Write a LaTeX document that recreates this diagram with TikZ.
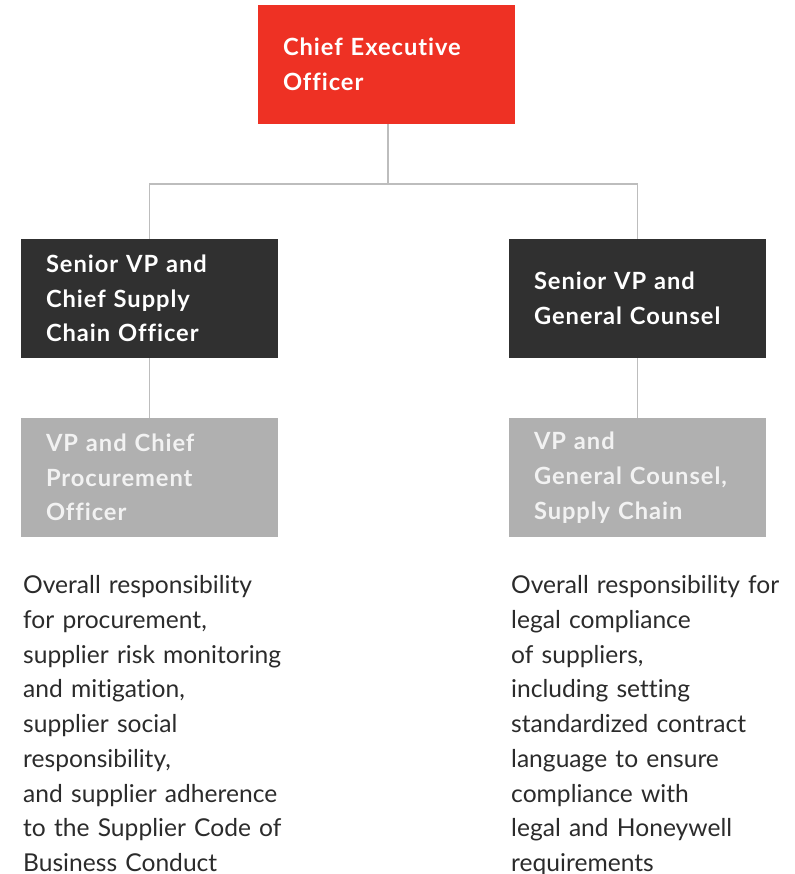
\documentclass[tikz,border=0pt]{standalone}
\usepackage{fontspec}
\setmainfont{Lato}[Ligatures=NoCommon]
\newfontfamily\boxfont{Lato}[LetterSpace=4,Ligatures=NoCommon]
\definecolor{ceored}{HTML}{EE3124}
\definecolor{darkbox}{HTML}{303030}
\definecolor{graybox}{HTML}{B0B0B0}
\definecolor{graytext}{HTML}{F2F2F2}
\definecolor{linegray}{HTML}{BDBDBD}
\definecolor{bodytext}{HTML}{2B2B2B}
\begin{document}
\begin{tikzpicture}[x=1pt,y=-1pt,
  box/.style={rectangle, text width=207pt, inner xsep=25pt, inner ysep=0pt,
    minimum height=119pt, align=left, font=\boxfont\fontsize{23.7}{34.7}\selectfont\bfseries},
  redbox/.style={box, fill=ceored, text=white},
  blackbox/.style={box, fill=darkbox, text=white},
  greybox/.style={box, fill=graybox, text=graytext},
  desc/.style={anchor=north west, inner sep=0pt, text width=283pt, align=left,
    text=bodytext, font=\fontsize{24.6}{34.7}\selectfont},
  conn/.style={draw=linegray, line width=1.2pt}]
\useasboundingbox (0,0) rectangle (794,874);
\node[redbox] (ceo) at (386.5,64.5) {Chief Executive\\Officer};
\node[blackbox] (svpl) at (149.5,298.5) {Senior VP and\\Chief Supply\\Chain Officer};
\node[blackbox] (svpr) at (637.5,298.5) {Senior VP and\\General Counsel};
\node[greybox] (vpl) at (149.5,477.5) {VP and Chief\\Procurement\\Officer};
\node[greybox] (vpr) at (637.5,477.5) {VP and\\General Counsel,\\Supply Chain};
\coordinate (j) at (388,184);
\draw[conn] (ceo.south -| j) -- (j);
\draw[conn] (svpl.north) |- (j) -| (svpr.north);
\draw[conn] (svpl) -- (vpl);
\draw[conn] (svpr) -- (vpr);
\node[desc] (dl) at (23,575.5) {Overall responsibility\\for procurement,\\supplier risk monitoring\\and mitigation,\\supplier social\\responsibility,\\and supplier adherence\\to the Supplier Code of\\Business Conduct};
\node[desc] (dr) at (511,575.5) {Overall responsibility for\\legal compliance\\of suppliers,\\including setting\\standardized contract\\language to ensure\\compliance with\\legal and Honeywell\\requirements};
\end{tikzpicture}
\end{document}
